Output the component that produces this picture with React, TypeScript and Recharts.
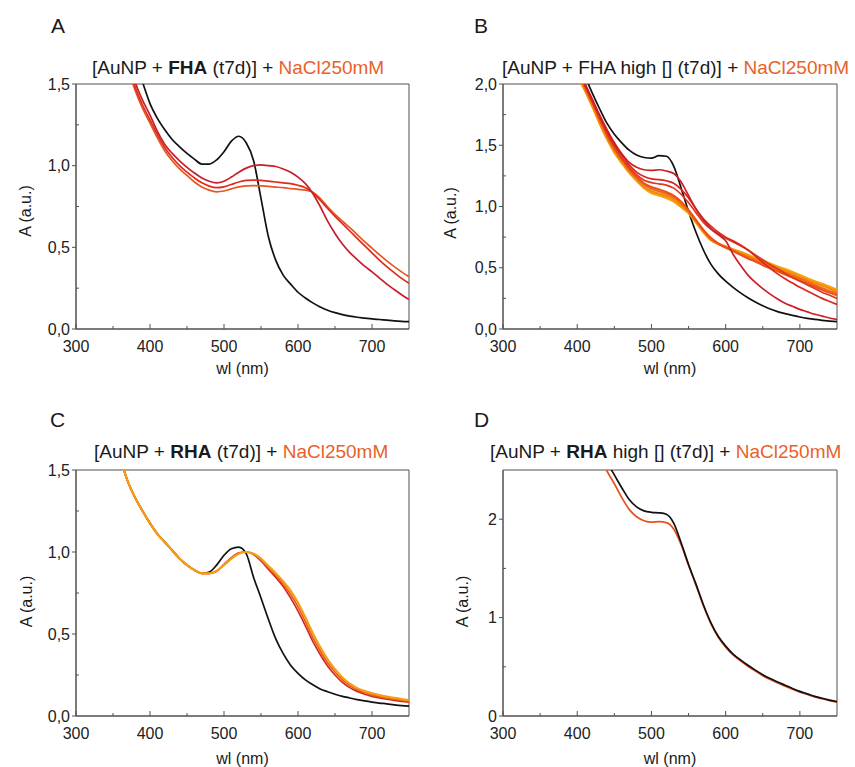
import React from 'react';
import { LineChart, Line, XAxis, YAxis, ReferenceArea } from 'recharts';

const FONT = 'Liberation Sans, Arial, Helvetica, sans-serif';
const AXIS = '#505050';
const NACL = '#E8622A';

// wavelengths (nm)
const wl = [360, 370, 380, 390, 400, 410, 420, 430, 440, 450, 460, 470, 480, 490, 500, 510, 520, 530, 540, 550,
  560, 570, 580, 590, 600, 610, 620, 630, 640, 650, 660, 670, 680, 690, 700, 710, 720, 730, 740, 750];

const xTicks = [300, 350, 400, 450, 500, 550, 600, 650, 700];
const xMajor = [300, 400, 500, 600, 700];
const xLabels = ['300', '400', '500', '600', '700'];

// ---------- Panel A ----------
const A_black = [2.0, 1.82, 1.65, 1.51, 1.38, 1.29, 1.22, 1.16, 1.115, 1.075, 1.04, 1.01, 1.01, 1.035, 1.085, 1.15, 1.18, 1.14, 1.03, 0.8,
  0.565, 0.42, 0.33, 0.275, 0.225, 0.19, 0.16, 0.135, 0.115, 0.1, 0.088, 0.079, 0.072, 0.067, 0.062, 0.058, 0.054, 0.05, 0.047, 0.045];
const A_r1 = [1.84, 1.66, 1.51, 1.4, 1.31, 1.21, 1.13, 1.075, 1.03, 0.99, 0.955, 0.925, 0.905, 0.895, 0.905, 0.93, 0.96, 0.985, 1.0, 1.005,
  1.0, 0.995, 0.98, 0.96, 0.93, 0.89, 0.83, 0.75, 0.66, 0.585, 0.52, 0.468, 0.425, 0.385, 0.35, 0.312, 0.275, 0.242, 0.21, 0.18];
const A_r2 = [1.8, 1.62, 1.48, 1.37, 1.28, 1.19, 1.11, 1.05, 1.0, 0.96, 0.925, 0.895, 0.875, 0.865, 0.87, 0.885, 0.9, 0.91, 0.912, 0.91,
  0.905, 0.9, 0.895, 0.89, 0.88, 0.865, 0.835, 0.788, 0.738, 0.69, 0.645, 0.6, 0.555, 0.51, 0.466, 0.422, 0.382, 0.345, 0.31, 0.28];
const A_r3 = [1.77, 1.6, 1.46, 1.35, 1.26, 1.17, 1.09, 1.03, 0.98, 0.94, 0.9, 0.87, 0.85, 0.84, 0.845, 0.858, 0.87, 0.876, 0.878, 0.876,
  0.873, 0.869, 0.865, 0.86, 0.855, 0.85, 0.838, 0.8, 0.748, 0.702, 0.66, 0.62, 0.578, 0.535, 0.495, 0.455, 0.417, 0.382, 0.35, 0.32];

// ---------- Panel B ----------
const B_black = [3.0, 2.8, 2.6, 2.4, 2.22, 2.07, 1.93, 1.8, 1.68, 1.59, 1.52, 1.46, 1.42, 1.4, 1.395, 1.415, 1.41, 1.33, 1.15, 0.96,
  0.79, 0.645, 0.53, 0.45, 0.39, 0.34, 0.295, 0.255, 0.22, 0.19, 0.163, 0.142, 0.126, 0.111, 0.098, 0.087, 0.078, 0.071, 0.065, 0.06];
const B_r1 = [2.95, 2.72, 2.5, 2.3, 2.14, 2.01, 1.88, 1.75, 1.63, 1.52, 1.43, 1.36, 1.32, 1.3, 1.295, 1.3, 1.29, 1.27, 1.2, 1.09,
  0.98, 0.89, 0.82, 0.77, 0.72, 0.61, 0.52, 0.44, 0.38, 0.33, 0.285, 0.245, 0.21, 0.185, 0.16, 0.14, 0.12, 0.105, 0.09, 0.078];
const B_r2 = [2.94, 2.71, 2.49, 2.29, 2.13, 2.0, 1.87, 1.74, 1.615, 1.51, 1.42, 1.34, 1.28, 1.245, 1.225, 1.22, 1.21, 1.19, 1.14, 1.07,
  0.98, 0.9, 0.84, 0.79, 0.75, 0.72, 0.685, 0.645, 0.595, 0.545, 0.495, 0.45, 0.41, 0.375, 0.34, 0.31, 0.28, 0.25, 0.225, 0.2];
const B_r3 = [2.93, 2.7, 2.48, 2.28, 2.12, 1.99, 1.86, 1.73, 1.6, 1.495, 1.4, 1.32, 1.26, 1.215, 1.195, 1.185, 1.175, 1.15, 1.1, 1.03,
  0.95, 0.87, 0.815, 0.775, 0.74, 0.71, 0.68, 0.645, 0.605, 0.565, 0.525, 0.49, 0.455, 0.42, 0.39, 0.36, 0.33, 0.3, 0.275, 0.25];
const B_o1 = [2.92, 2.7, 2.47, 2.27, 2.11, 1.99, 1.86, 1.72, 1.59, 1.48, 1.39, 1.31, 1.245, 1.19, 1.16, 1.14, 1.12, 1.09, 1.04, 0.97,
  0.89, 0.81, 0.745, 0.7, 0.665, 0.635, 0.605, 0.575, 0.55, 0.52, 0.495, 0.47, 0.445, 0.42, 0.395, 0.37, 0.345, 0.32, 0.295, 0.275];
const B_o2 = [2.91, 2.69, 2.46, 2.26, 2.1, 1.98, 1.85, 1.71, 1.58, 1.47, 1.38, 1.3, 1.235, 1.18, 1.145, 1.125, 1.105, 1.075, 1.03, 0.965,
  0.885, 0.805, 0.735, 0.695, 0.665, 0.64, 0.61, 0.585, 0.56, 0.535, 0.51, 0.485, 0.46, 0.435, 0.41, 0.385, 0.36, 0.335, 0.31, 0.29];
const B_o3 = [2.89, 2.67, 2.44, 2.24, 2.08, 1.96, 1.83, 1.69, 1.565, 1.455, 1.365, 1.285, 1.22, 1.16, 1.125, 1.105, 1.085, 1.055, 1.01, 0.955,
  0.875, 0.795, 0.73, 0.695, 0.67, 0.645, 0.62, 0.595, 0.57, 0.545, 0.525, 0.5, 0.475, 0.45, 0.425, 0.4, 0.375, 0.355, 0.33, 0.305];
const B_o4 = [2.88, 2.66, 2.43, 2.23, 2.07, 1.95, 1.82, 1.68, 1.55, 1.44, 1.355, 1.275, 1.21, 1.15, 1.11, 1.09, 1.07, 1.04, 0.995, 0.945,
  0.87, 0.79, 0.725, 0.695, 0.675, 0.65, 0.63, 0.605, 0.58, 0.56, 0.535, 0.51, 0.49, 0.465, 0.44, 0.415, 0.39, 0.37, 0.345, 0.32];

// ---------- Panel C ----------
const C_black = [1.57, 1.43, 1.33, 1.25, 1.175, 1.11, 1.06, 1.01, 0.96, 0.92, 0.89, 0.87, 0.878, 0.92, 0.98, 1.02, 1.03, 0.99, 0.845, 0.72,
  0.59, 0.47, 0.38, 0.31, 0.26, 0.22, 0.19, 0.165, 0.148, 0.133, 0.12, 0.11, 0.1, 0.092, 0.085, 0.079, 0.074, 0.068, 0.063, 0.06];
const C_red = [1.57, 1.43, 1.33, 1.25, 1.175, 1.11, 1.06, 1.01, 0.96, 0.92, 0.89, 0.87, 0.87, 0.882, 0.925, 0.965, 0.995, 1.0, 0.985, 0.945,
  0.895, 0.845, 0.79, 0.72, 0.64, 0.55, 0.455, 0.375, 0.305, 0.25, 0.205, 0.173, 0.15, 0.133, 0.12, 0.11, 0.102, 0.095, 0.089, 0.084];
const C_orred = [1.57, 1.43, 1.33, 1.25, 1.175, 1.11, 1.06, 1.01, 0.96, 0.92, 0.89, 0.87, 0.87, 0.883, 0.922, 0.962, 0.992, 1.0, 0.988, 0.952,
  0.905, 0.858, 0.805, 0.742, 0.665, 0.575, 0.48, 0.398, 0.325, 0.268, 0.22, 0.185, 0.16, 0.143, 0.129, 0.118, 0.11, 0.102, 0.096, 0.09];
const C_orange = [1.57, 1.43, 1.33, 1.25, 1.175, 1.11, 1.06, 1.01, 0.96, 0.92, 0.89, 0.87, 0.87, 0.885, 0.92, 0.96, 0.99, 1.0, 0.99, 0.96,
  0.915, 0.87, 0.82, 0.765, 0.69, 0.6, 0.505, 0.42, 0.345, 0.285, 0.235, 0.197, 0.17, 0.152, 0.138, 0.127, 0.118, 0.11, 0.103, 0.097];

// ---------- Panel D ----------
const D_black = [4.0, 3.8, 3.6, 3.4, 3.2, 3.0, 2.85, 2.7, 2.58, 2.45, 2.32, 2.2, 2.125, 2.085, 2.07, 2.065, 2.05, 1.96, 1.76, 1.54,
  1.34, 1.13, 0.95, 0.81, 0.71, 0.63, 0.57, 0.515, 0.466, 0.42, 0.38, 0.345, 0.313, 0.28, 0.25, 0.225, 0.2, 0.18, 0.162, 0.145];
const D_orange = [3.9, 3.7, 3.5, 3.3, 3.1, 2.92, 2.77, 2.62, 2.49, 2.36, 2.22, 2.1, 2.025, 1.985, 1.97, 1.975, 1.965, 1.9, 1.74, 1.53,
  1.33, 1.12, 0.94, 0.8, 0.7, 0.62, 0.56, 0.505, 0.456, 0.41, 0.37, 0.335, 0.303, 0.272, 0.243, 0.218, 0.194, 0.175, 0.157, 0.14];

// y ticks
const yTicks15 = [0, 0.25, 0.5, 0.75, 1, 1.25, 1.5];
const yMajor15 = [0, 0.5, 1, 1.5];
const yLabels15 = ['0,0', '0,5', '1,0', '1,5'];
const yTicks20 = [0, 0.25, 0.5, 0.75, 1, 1.25, 1.5, 1.75, 2];
const yMajor20 = [0, 0.5, 1, 1.5, 2];
const yLabels20 = ['0,0', '0,5', '1,0', '1,5', '2,0'];
const yTicks25 = [0, 0.5, 1, 1.5, 2];
const yMajor25 = [0, 1, 2];
const yLabels25 = ['0', '1', '2'];

type Series = { key: string; values: number[]; color: string; width?: number };

const makeXTick = (props: any) => {
  const { x, y, payload } = props;
  const idx = xMajor.indexOf(payload.value);
  if (idx >= 0) {
    return (
      <g>
        <line x1={x} x2={x} y1={y} y2={y - 5} stroke={AXIS} strokeWidth={1} />
        <text x={x} y={y + 22.5} textAnchor="middle" fontSize={16} fill="#222" fontFamily={FONT}>{xLabels[idx]}</text>
      </g>
    );
  }
  return <line x1={x} x2={x} y1={y} y2={y - 3} stroke={AXIS} strokeWidth={1} />;
};

const makeYTick = (majors: number[], labels: string[]) => (props: any) => {
  const { x, y, payload } = props;
  const idx = majors.indexOf(payload.value);
  if (idx >= 0) {
    return (
      <g>
        <line x1={x} x2={x - 4} y1={y} y2={y} stroke={AXIS} strokeWidth={1} />
        <text x={x - 6} y={y + 5.7} textAnchor="end" fontSize={16} fill="#222" fontFamily={FONT}>{labels[idx]}</text>
      </g>
    );
  }
  return <line x1={x} x2={x + 3} y1={y} y2={y} stroke={AXIS} strokeWidth={1} />;
};

function Panel(props: {
  left: number; top: number; width: number; height: number; mTop: number; mBottom: number; mRight: number;
  yMax: number; yTicks: number[]; yMajor: number[]; yLabels: string[]; series: Series[];
}) {
  const { left, top, width, height, mTop, mBottom, mRight, yMax, yTicks, yMajor, yLabels, series } = props;
  const data = wl.map((w, i) => {
    const row: any = { wl: w };
    series.forEach((s) => { row[s.key] = s.values[i]; });
    return row;
  });
  return (
    <div style={{ position: 'absolute', left, top, width, height }}>
      <LineChart width={width} height={height} data={data} margin={{ top: mTop, right: mRight, bottom: mBottom, left: 16 }}>
        <XAxis dataKey="wl" type="number" domain={[300, 750]} ticks={xTicks} interval={0} allowDataOverflow
          height={30} tickSize={0} tickMargin={0} tickLine={false} axisLine={{ stroke: AXIS }} tick={makeXTick} />
        <YAxis type="number" domain={[0, yMax]} ticks={yTicks} interval={0} allowDataOverflow width={60}
          tickSize={0} tickMargin={0} tickLine={false} axisLine={{ stroke: AXIS }} tick={makeYTick(yMajor, yLabels)} />
        <ReferenceArea x1={300} x2={750} y1={0} y2={yMax} fill="none" stroke={AXIS} strokeWidth={1} ifOverflow="visible" />
        {series.map((s) => (
          <Line key={s.key} dataKey={s.key} type="monotone" stroke={s.color} strokeWidth={s.width ?? 1.7} dot={false}
            activeDot={false} isAnimationActive={false} />
        ))}
      </LineChart>
    </div>
  );
}

function Title(props: { x: number; y: number; bold: string; mid: string }) {
  const { x, y, bold, mid } = props;
  return (
    <text x={x} y={y} fontSize={19} fontFamily={FONT} fill="#1a1a1a" style={{ whiteSpace: 'pre' }}>
      <tspan>{'[AuNP + '}</tspan>
      <tspan fontWeight={bold.startsWith('*') ? 'bold' : 'normal'}>{bold.replace('*', '')}</tspan>
      <tspan>{mid}</tspan>
      <tspan fill={NACL}>{'NaCl250mM'}</tspan>
    </text>
  );
}

export default function App() {
  const textProps = { fontFamily: FONT, fill: '#1a1a1a' };
  return (
    <div style={{ position: 'absolute', left: 0, top: 0, width: 855, height: 767, background: '#fff', overflow: 'hidden' }}>
      <Panel left={0} top={0} width={427} height={383} mTop={84} mBottom={24} mRight={18} yMax={1.5}
        yTicks={yTicks15} yMajor={yMajor15} yLabels={yLabels15}
        series={[
          { key: 'black', values: A_black, color: '#111111' },
          { key: 'r3', values: A_r3, color: '#E9561F' },
          { key: 'r2', values: A_r2, color: '#DC2C1E' },
          { key: 'r1', values: A_r1, color: '#C81E2A' },
        ]} />
      <Panel left={427} top={0} width={428} height={383} mTop={84} mBottom={24} mRight={18} yMax={2}
        yTicks={yTicks20} yMajor={yMajor20} yLabels={yLabels20}
        series={[
          { key: 'black', values: B_black, color: '#111111' },
          { key: 'o4', values: B_o4, color: '#F6A40A', width: 2.2 },
          { key: 'o3', values: B_o3, color: '#F38A0E', width: 2.2 },
          { key: 'o2', values: B_o2, color: '#EF6A14', width: 2.2 },
          { key: 'o1', values: B_o1, color: '#E9501A', width: 2 },
          { key: 'r3', values: B_r3, color: '#E0381F' },
          { key: 'r2', values: B_r2, color: '#D8281E' },
          { key: 'r1', values: B_r1, color: '#CC1F24' },
        ]} />
      <Panel left={0} top={383} width={427} height={384} mTop={87} mBottom={21} mRight={18} yMax={1.5}
        yTicks={yTicks15} yMajor={yMajor15} yLabels={yLabels15}
        series={[
          { key: 'black', values: C_black, color: '#111111' },
          { key: 'red', values: C_red, color: '#D32A1F' },
          { key: 'orred', values: C_orred, color: '#EA5A1A' },
          { key: 'orange', values: C_orange, color: '#F59E12', width: 2.2 },
        ]} />
      <Panel left={427} top={383} width={428} height={384} mTop={87} mBottom={21} mRight={18} yMax={2.5}
        yTicks={yTicks25} yMajor={yMajor25} yLabels={yLabels25}
        series={[
          { key: 'orange', values: D_orange, color: '#E8501E' },
          { key: 'black', values: D_black, color: '#111111' },
        ]} />
      <svg width={855} height={767} style={{ position: 'absolute', left: 0, top: 0, pointerEvents: 'none' }}>
        <text x={51} y={33.3} fontSize={21} {...textProps}>A</text>
        <text x={474} y={33.3} fontSize={21} {...textProps}>B</text>
        <text x={50} y={427.3} fontSize={21} {...textProps}>C</text>
        <text x={474} y={427.3} fontSize={21} {...textProps}>D</text>

        <Title x={92} y={73.5} bold="*FHA" mid={' (t7d)] + '} />
        <Title x={502} y={73.5} bold="FHA" mid={' high [] (t7d)] + '} />
        <Title x={94} y={458} bold="*RHA" mid={' (t7d)] + '} />
        <Title x={490} y={458} bold="*RHA" mid={' high [] (t7d)] + '} />

        <text x={242.5} y={373.5} fontSize={16} textAnchor="middle" {...textProps}>wl (nm)</text>
        <text x={670} y={373.5} fontSize={16} textAnchor="middle" {...textProps}>wl (nm)</text>
        <text x={242.5} y={763.5} fontSize={16} textAnchor="middle" {...textProps}>wl (nm)</text>
        <text x={670} y={763.5} fontSize={16} textAnchor="middle" {...textProps}>wl (nm)</text>

        <text transform="translate(31,211) rotate(-90)" fontSize={16} textAnchor="middle" {...textProps}>A (a.u.)</text>
        <text transform="translate(456,213) rotate(-90)" fontSize={16} textAnchor="middle" {...textProps}>A (a.u.)</text>
        <text transform="translate(32,601.5) rotate(-90)" fontSize={16} textAnchor="middle" {...textProps}>A (a.u.)</text>
        <text transform="translate(468,601.5) rotate(-90)" fontSize={16} textAnchor="middle" {...textProps}>A (a.u.)</text>
      </svg>
    </div>
  );
}
